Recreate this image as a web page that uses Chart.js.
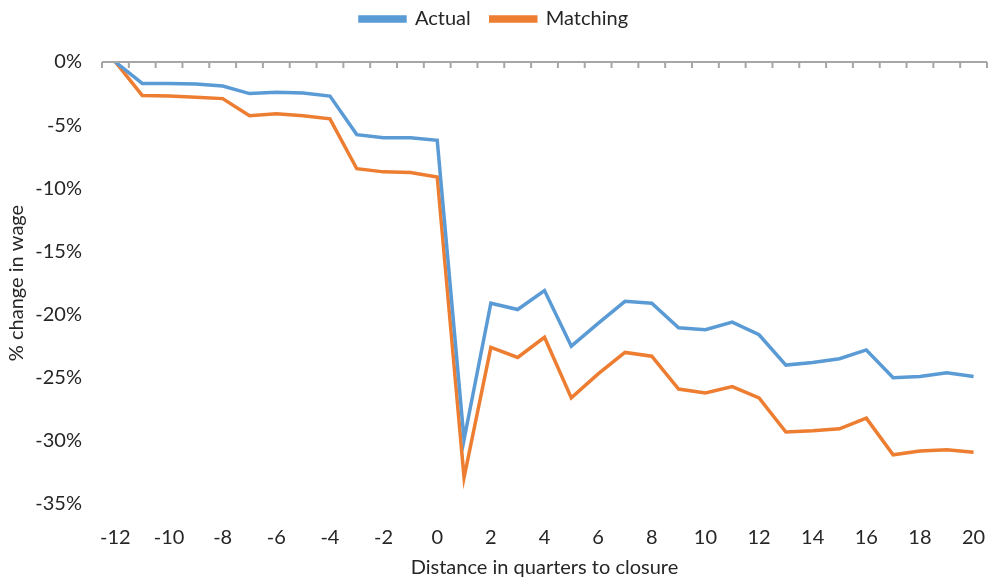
<!DOCTYPE html>
<html>
<head>
<meta charset="utf-8">
<script src="https://cdn.jsdelivr.net/npm/chart.js@4"></script>
<style>
  html, body { margin: 0; padding: 0; background: #fff; }
  #wrap { width: 989px; height: 580px; }
</style>
</head>
<body>
<div id="wrap"><canvas id="wageChart"></canvas></div>
<script>
const quarters = [-12, -11, -10, -9, -8, -7, -6, -5, -4, -3, -2, -1, 0, 1, 2, 3, 4, 5, 6, 7, 8, 9, 10, 11, 12, 13, 14, 15, 16, 17, 18, 19, 20];
const actual = [0, -1.7, -1.7, -1.75, -1.9, -2.5, -2.4, -2.45, -2.7, -5.75, -6.0, -6.0, -6.2, -29.9, -19.1, -19.6, -18.1, -22.5, -20.7, -18.95, -19.1, -21.05, -21.2, -20.6, -21.6, -24.0, -23.8, -23.5, -22.8, -25.0, -24.9, -24.6, -24.9];
const matching = [0, -2.65, -2.7, -2.8, -2.9, -4.25, -4.1, -4.25, -4.5, -8.45, -8.7, -8.75, -9.1, -32.9, -22.6, -23.4, -21.8, -26.6, -24.7, -23.0, -23.3, -25.9, -26.2, -25.7, -26.6, -29.3, -29.2, -29.05, -28.2, -31.1, -30.8, -30.7, -30.9];
const yTicks = [0, -5, -10, -15, -20, -25, -30, -35];

// axis line at 0% with tick marks between categories (Excel style)
const zeroAxis = {
  id: 'zeroAxis',
  afterDatasetsDraw(chart) {
    const { ctx, scales: { x, y }, chartArea } = chart;
    const py = y.getPixelForValue(0);
    ctx.save();
    ctx.strokeStyle = '#a6a6a6';
    ctx.lineWidth = 2;
    ctx.beginPath();
    ctx.moveTo(chartArea.left, py);
    ctx.lineTo(chartArea.right, py);
    const half = (x.getPixelForValue(1) - x.getPixelForValue(0)) / 2;
    for (let i = 0; i <= quarters.length; i++) {
      const px = i < quarters.length ? x.getPixelForValue(i) - half : x.getPixelForValue(i - 1) + half;
      ctx.moveTo(px, py);
      ctx.lineTo(px, py + 6);
    }
    ctx.stroke();
    ctx.restore();
  }
};

// fixed legend block height so the plot starts where it does in the original
const legendGap = {
  id: 'legendGap',
  beforeInit(chart) {
    const fit = chart.legend.fit;
    chart.legend.fit = function () {
      fit.bind(chart.legend)();
      this.height = 73;
    };
  }
};

const font = { family: "Lato, 'Open Sans', sans-serif", size: 20 };
const txt = '#262626';

new Chart(document.getElementById('wageChart').getContext('2d'), {
  type: 'line',
  data: {
    labels: quarters,
    datasets: [{
      label: 'Actual',
      data: actual,
      borderColor: '#5B9BD5',
      backgroundColor: '#5B9BD5',
      borderWidth: 3.5,
      pointRadius: 0,
      tension: 0
    }, {
      label: 'Matching',
      data: matching,
      borderColor: '#ED7D31',
      backgroundColor: '#ED7D31',
      borderWidth: 3.5,
      pointRadius: 0,
      tension: 0
    }]
  },
  options: {
    responsive: true,
    maintainAspectRatio: false,
    animation: false,
    layout: { padding: { left: 1, right: 2, top: -11, bottom: 0 } },
    plugins: {
      legend: {
        position: 'top',
        labels: {
          boxWidth: 45,
          boxHeight: 4,
          padding: 20,
          color: txt,
          font: font
        }
      },
      tooltip: { enabled: false }
    },
    scales: {
      x: {
        offset: true,
        grid: { display: false },
        border: { display: false },
        afterFit(scale) {
          scale.height = 76;
          scale.paddingLeft = 0;
          scale.paddingRight = 0;
        },
        ticks: {
          autoSkip: false,
          maxRotation: 0,
          color: txt,
          font: font,
          padding: 14,
          callback: function (v, i) { return quarters[i] % 2 === 0 ? quarters[i] : ''; }
        },
        title: { display: true, text: 'Distance in quarters to closure', color: txt, font: font, padding: { top: 4, bottom: 0 } }
      },
      y: {
        min: -35,
        max: 0,
        afterBuildTicks: (axis) => { axis.ticks = yTicks.map(v => ({ value: v })); },
        afterFit(scale) {
          scale.width = 101;
          scale.paddingTop = 0;
          scale.paddingBottom = 0;
        },
        grid: { display: false },
        border: { display: false },
        ticks: {
          color: txt,
          font: font,
          padding: 12,
          callback: v => v + '%'
        },
        title: { display: true, text: '% change in wage', color: txt, font: font, padding: { top: 4, bottom: 4 } }
      }
    }
  },
  plugins: [zeroAxis, legendGap]
});
</script>
</body>
</html>
